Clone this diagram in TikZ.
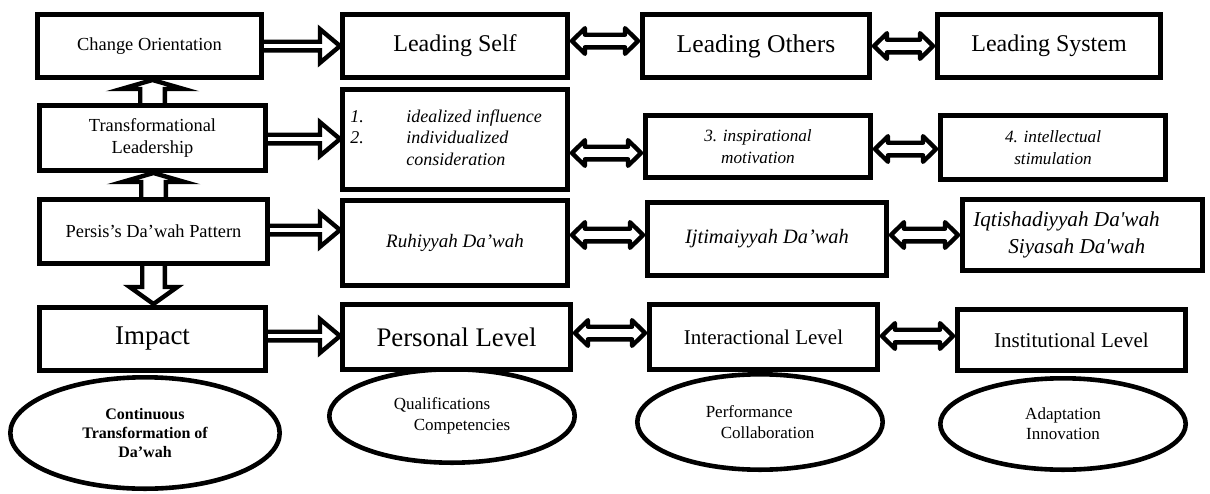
\documentclass[tikz,border=0pt]{standalone}
\usepackage{fontspec}
\setmainfont{Liberation Serif}
\usetikzlibrary{shapes.geometric,calc}
\newcommand{\fsz}[2]{\fontsize{#1pt}{#2pt}\selectfont}
\tikzset{
  wh/.style 2 args={minimum width={#1*0.5pt-2.3pt}, minimum height={#2*0.5pt-2.3pt}},
  box/.style={draw, line width=2.3pt, fill=white, inner sep=2pt, align=center},
  oval/.style={ellipse, draw, line width=2.3pt, inner sep=0pt, align=center},
  harrow/.style={draw, fill=white, line width=2.2pt, line join=miter},
  darrow/.style={draw, fill=white, line width=2.2pt, line join=round},
}
% single hollow arrow, left to right
\newcommand{\rarr}[3][0]{%
  \draw[harrow] let \p1=($(#2.east)+(0,#1)$), \p2=(#3.west) in
  (\x1-1.15pt,\y1+2.15pt) -- (\x2-10pt,\y1+2.15pt) -- (\x2-10pt,\y1+8.4pt) -- (\x2,\y1)
  -- (\x2-10pt,\y1-8.4pt) -- (\x2-10pt,\y1-2.15pt) -- (\x1-1.15pt,\y1-2.15pt) -- cycle;}
% double hollow arrow
\newcommand{\darr}[3][0]{%
  \draw[darrow] let \p1=($(#2.east)+(0,#1)$), \p2=(#3.west) in
  (\x1+1pt,\y1) -- (\x1+7.5pt,\y1+6.4pt) -- (\x1+7.5pt,\y1+3.15pt) -- (\x2-7.5pt,\y1+3.15pt)
  -- (\x2-7.5pt,\y1+6.4pt) -- (\x2-1pt,\y1) -- (\x2-7.5pt,\y1-6.4pt) -- (\x2-7.5pt,\y1-3.15pt)
  -- (\x1+7.5pt,\y1-3.15pt) -- (\x1+7.5pt,\y1-6.4pt) -- cycle;}
% upward hollow arrow (flat head)
\newcommand{\uarr}[2]{%
  \draw[harrow] let \p1=(#1.north), \p2=(#2.south) in
  (\x1-6.15pt,\y1-1.15pt) -- (\x1-6.15pt,\y2-4.5pt) -- (\x1-15.6pt,\y2-4.5pt) -- (\x1,\y2)
  -- (\x1+15.6pt,\y2-4.5pt) -- (\x1+6.15pt,\y2-4.5pt) -- (\x1+6.15pt,\y1-1.15pt) -- cycle;}
% downward hollow arrow
\newcommand{\downarr}[2]{%
  \draw[harrow] let \p1=(#1.south), \p2=(#2.north) in
  (\x1-5.65pt,\y1+1.15pt) -- (\x1-5.65pt,\y2+9pt) -- (\x1-11.9pt,\y2+9pt) -- (\x1,\y2+0.5pt)
  -- (\x1+11.9pt,\y2+9pt) -- (\x1+5.65pt,\y2+9pt) -- (\x1+5.65pt,\y1+1.15pt) -- cycle;}
\begin{document}
\begin{tikzpicture}[x=0.5pt,y=-0.5pt]
\useasboundingbox (0,0) rectangle (1210,493);
% column 1
\node[box, wh={229}{68}, font=\fsz{9.2}{11}] (co) at (149.5,46) {Change Orientation};
\node[box, wh={231}{70}, font=\fsz{9.2}{11}] (tl) at (152.5,138) {Transformational\\Leadership};
\node[box, wh={233}{69}, font=\fsz{9.2}{11}] (pdp) at (153.5,231.5) {Persis’s Da’wah Pattern};
\node[box, wh={231}{68}, font=\fsz{13.5}{16}] (imp) at (152.5,339) {Impact};
% column 2
\node[box, wh={230}{68}, font=\fsz{12}{14}] (ls) at (455,46) {Leading Self};
\node[box, wh={230}{105}, font=\itshape\fsz{9}{10.8}] (b2) at (455,139.5)
  {\begin{tabular}{@{}p{28pt}@{}l@{}}1. & idealized influence\\ 2. & individualized\\ & consideration\end{tabular}\hspace*{9pt}};
\node[box, wh={230}{90}, font=\itshape\fsz{9.5}{11.4}] (ruh) at (455,243) {Ruhiyyah Da’wah};
\node[box, wh={233}{70}, font=\fsz{13.4}{16}] (pl) at (456.5,337) {Personal Level};
% column 3
\node[box, wh={232}{68}, font=\fsz{12.8}{15}] (lo) at (756,46) {Leading Others};
\node[box, wh={230}{67}, font=\itshape\fsz{8.6}{11}] (insp) at (758,146.5) {3. inspirational\\motivation};
\node[box, wh={244}{78}, font=\itshape\fsz{10.2}{12}] (ijt) at (767,239) {Ijtimaiyyah Da’wah};
\node[box, wh={233}{70}, font=\fsz{10.5}{12.6}] (il) at (763.5,337) {Interactional Level};
% column 4
\node[box, wh={228}{68}, font=\fsz{12}{14}] (lsys) at (1049,46) {Leading System};
\node[box, wh={230}{69}, font=\itshape\fsz{8.6}{11}] (intel) at (1053,147.5) {4. intellectual\\stimulation};
\node[box, wh={245}{76}, font=\itshape\fsz{10.6}{13.5}, align=left] (iqt) at (1082.5,235)
  {Iqtishadiyyah Da\textquotesingle wah\hspace*{16pt}\\\hspace*{17.5pt}Siyasah Da\textquotesingle wah};
\node[box, wh={233}{66}, font=\fsz{10.5}{12.6}] (inst) at (1071.5,340) {Institutional Level};
% ellipses
\node[oval, wh={274}{116}, font=\bfseries\fsz{8}{9.5}] (e1) at (145,433) {Continuous\\Transformation of\\Da’wah};
\node[oval, wh={250}{98}, font=\fsz{8.5}{10.5}, align=left] (e2) at (452,416) {Qualifications\\\hspace*{10pt}Competencies};
\node[oval, wh={250}{100}, font=\fsz{8.5}{10.5}, align=left] (e3) at (760,422) {Performance\\\hspace*{7.5pt}Collaboration};
\node[oval, wh={250}{96}, font=\fsz{8.5}{10}] (e4) at (1063,424) {Adaptation\\Innovation};
% connectors
\rarr{co}{ls}
\rarr[1]{tl}{b2}
\rarr[-1.5]{pdp}{ruh}
\rarr[-3]{imp}{pl}
\darr[-5]{ls}{lo}
\darr{lo}{lsys}
\darr[13.5]{b2}{insp}
\darr[2.5]{insp}{intel}
\darr[-8]{ruh}{ijt}
\darr[-4]{ijt}{iqt}
\darr[-4]{pl}{il}
\darr[-1]{il}{inst}
\uarr{tl}{co}
\uarr{pdp}{tl}
\downarr{pdp}{imp}
\end{tikzpicture}
\end{document}
